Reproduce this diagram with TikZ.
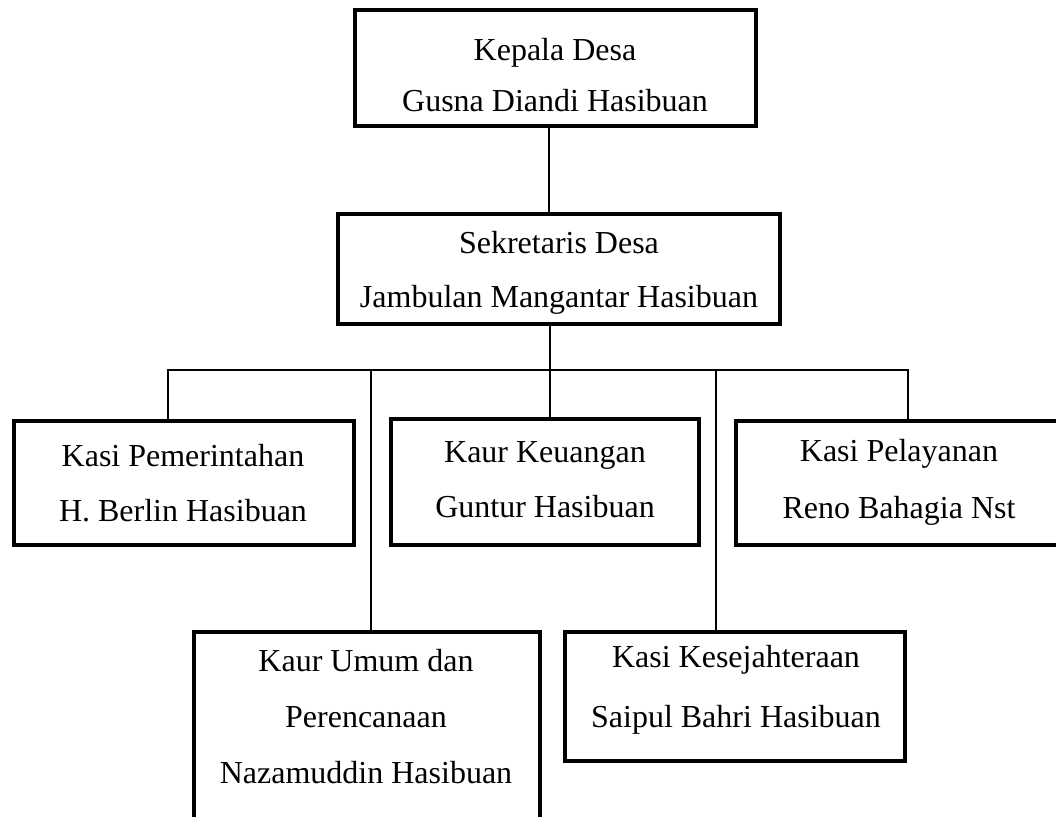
\documentclass[tikz,border=0pt]{standalone}
\usepackage{fontspec}
\setmainfont{Liberation Serif}
\begin{document}
\begin{tikzpicture}[x=1pt,y=-1pt,
  box/.style={draw, line width=4pt, rectangle, outer sep=0pt, inner sep=0pt},
  conn/.style={line width=1.3pt},
  lbl/.style={align=center, inner sep=0pt, font=\fontsize{32}{#1}\selectfont},
  lbl/.default=55]
\useasboundingbox (0,0) rectangle (1056,816);
% boxes
\node[box, minimum width=401pt, minimum height=116pt] (b1) at (555.5,68) {};
\node[box, minimum width=442pt, minimum height=110pt] (b2) at (559,269) {};
\node[box, minimum width=340pt, minimum height=124pt] (b3) at (184,483) {};
\node[box, minimum width=308pt, minimum height=126pt] (b4) at (545,482) {};
\node[box, minimum width=326pt, minimum height=124pt] (b5) at (899,483) {};
\node[box, minimum width=346pt, minimum height=204pt] (b6) at (367,734) {};
\node[box, minimum width=340pt, minimum height=129pt] (b7) at (735,696.5) {};
% texts
\node[lbl=51] (t1) at (555,75) {Kepala Desa\\Gusna Diandi Hasibuan};
\node[lbl=54] (t2) at (559,273) {Sekretaris Desa\\Jambulan Mangantar Hasibuan};
\node[lbl=55] (t3) at (183,483) {Kasi Pemerintahan\\H. Berlin Hasibuan};
\node[lbl=55] (t4) at (545,480) {Kaur Keuangan\\Guntur Hasibuan};
\node[lbl=57] (t5) at (899,482) {Kasi Pelayanan\\Reno Bahagia Nst};
\node[lbl=56] (t6) at (366,717) {Kaur Umum dan\\Perencanaan\\Nazamuddin Hasibuan};
\node[lbl=60] (t7) at (736,690) {Kasi Kesejahteraan\\Saipul Bahri Hasibuan};
% connectors
\coordinate (v12) at (549,0);
\coordinate (v2) at (550,370);
\coordinate (busL) at (168,370);
\coordinate (busR) at (908,370);
\coordinate (v6) at (371,370);
\coordinate (v7) at (716,370);
\draw[conn] (v12 |- b1.south) -- (v12 |- b2.north);
\draw[conn] (v2 |- b2.south) -- (v2) -- (v2 |- b4.north);
\draw[conn] (busL |- b3.north) -- (busL) -- (busR) -- (busR |- b5.north);
\draw[conn] (v6) -- (v6 |- b6.north);
\draw[conn] (v7) -- (v7 |- b7.north);
\end{tikzpicture}
\end{document}
